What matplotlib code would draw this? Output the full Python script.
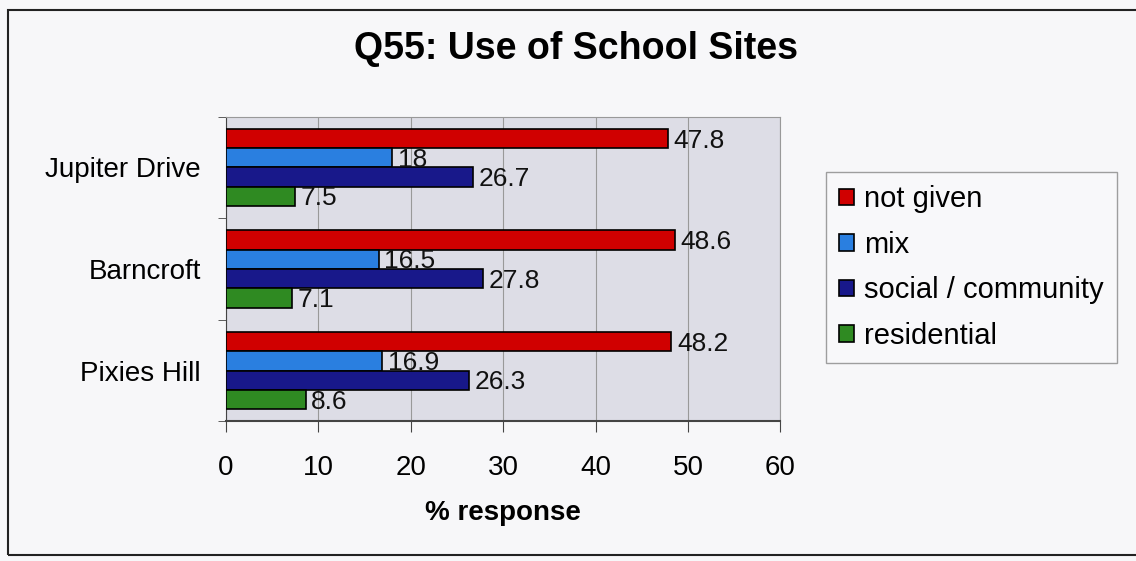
import matplotlib.pyplot as plt
import numpy as np
from matplotlib.patches import Rectangle

plt.rcParams["font.family"] = ["Liberation Sans", "DejaVu Sans"]

SITES = ["Jupiter Drive", "Barncroft", "Pixies Hill"]
SERIES = ["not given", "mix", "social / community", "residential"]
NOT_GIVEN = [47.8, 48.6, 48.2]
MIX = [18, 16.5, 16.9]
SOCIAL = [26.7, 27.8, 26.3]
RESIDENTIAL = [7.5, 7.1, 8.6]
COLORS = ["#d00000", "#2a7fe0", "#18188a", "#2f8a22"]
XTICKS = [0, 10, 20, 30, 40, 50, 60]

fig = plt.figure(figsize=(11.36, 5.61), dpi=100, facecolor="#f7f7f9")
# outer frame like the pasted chart
fig.patches.append(Rectangle((0.007, 0.01), 0.995, 0.972, transform=fig.transFigure,
                             fill=False, edgecolor="#222222", linewidth=1.5))

ax = fig.add_axes([0.199, 0.249, 0.488, 0.543])
ax.set_facecolor("#dddde6")

values = [NOT_GIVEN, MIX, SOCIAL, RESIDENTIAL]
y = np.arange(len(SITES))
h = 0.19
offsets = [-0.285, -0.095, 0.095, 0.285]
for vals, off, col, name in zip(values, offsets, COLORS, SERIES):
    bars = ax.barh(y + off, vals, height=h, color=col, edgecolor="black", linewidth=1.2,
                   label=name, zorder=3)
    for b, v in zip(bars, vals):
        ax.text(v + 0.6, b.get_y() + b.get_height() / 2 + 0.02, f"{v:g}", va="center",
                ha="left", fontsize=19, color="#111111", zorder=4)

ax.set_xlim(0, 60)
ax.set_ylim(2.5, -0.5)
ax.set_xticks(XTICKS)
ax.set_xticklabels([str(t) for t in XTICKS], fontsize=20)
ax.tick_params(axis="x", length=8, pad=16, color="#444444")
ax.set_yticks(y)
ax.set_yticklabels(SITES, fontsize=20)
ax.tick_params(axis="y", length=0, pad=18)
ax.set_yticks([-0.5, 0.5, 1.5, 2.5], minor=True)
ax.tick_params(axis="y", which="minor", length=6, color="#444444")
ax.grid(axis="x", color="#999999", linewidth=0.8, zorder=0)
for s in ["top", "right"]:
    ax.spines[s].set_color("#999999")
ax.spines["left"].set_color("#444444")
ax.spines["bottom"].set_color("#444444")
ax.spines["bottom"].set_linewidth(1.5)

ax.set_xlabel("% response", fontsize=20, fontweight="bold", labelpad=14)
fig.text(0.507, 0.912, "Q55: Use of School Sites", ha="center", va="center",
         fontsize=27, fontweight="bold")

leg = ax.legend(loc="upper left", bbox_to_anchor=(0.727, 0.693), bbox_transform=fig.transFigure,
                fontsize=21, frameon=True, handlelength=0.5, handleheight=0.5,
                handletextpad=0.35, labelspacing=0.6, borderpad=0.45, fancybox=False,
                borderaxespad=0)
leg.get_frame().set_edgecolor("#888888")
leg.get_frame().set_facecolor("#f9f9fb")

fig.savefig("out.png", dpi=100, facecolor=fig.get_facecolor())
